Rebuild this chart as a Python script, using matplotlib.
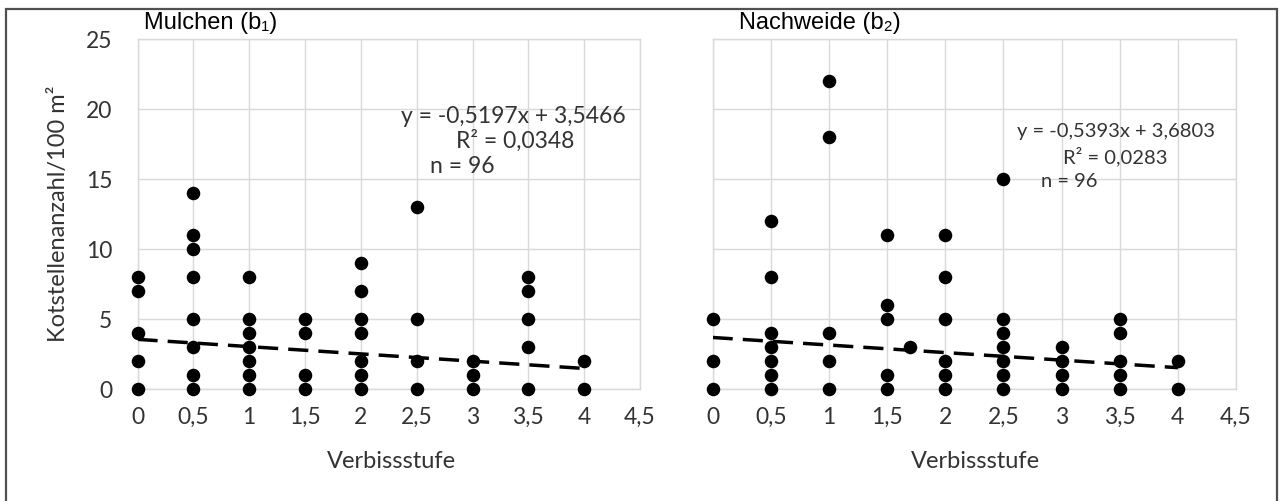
import matplotlib
matplotlib.use("Agg")
import matplotlib.pyplot as plt
from matplotlib.patches import Rectangle

# Browsing level (x) and dung-spot counts per 100 m² (y), one list per treatment
mulchen_x = [0, 0, 0, 0, 0,
             0.5, 0.5, 0.5, 0.5, 0.5, 0.5, 0.5, 0.5,
             1, 1, 1, 1, 1, 1, 1,
             1.5, 1.5, 1.5, 1.5,
             2, 2, 2, 2, 2, 2, 2,
             2.5, 2.5, 2.5, 2.5,
             3, 3, 3,
             3.5, 3.5, 3.5, 3.5, 3.5,
             4, 4]
mulchen_y = [8, 7, 4, 2, 0,
             14, 11, 10, 8, 5, 3, 1, 0,
             8, 5, 4, 3, 2, 1, 0,
             5, 4, 1, 0,
             9, 7, 5, 4, 2, 1, 0,
             13, 5, 2, 0,
             2, 1, 0,
             8, 7, 5, 3, 0,
             2, 0]

nachweide_x = [0, 0, 0,
               0.5, 0.5, 0.5, 0.5, 0.5, 0.5, 0.5,
               1, 1, 1, 1, 1,
               1.5, 1.5, 1.5, 1.5, 1.5,
               1.7,
               2, 2, 2, 2, 2, 2,
               2.5, 2.5, 2.5, 2.5, 2.5, 2.5, 2.5,
               3, 3, 3, 3,
               3.5, 3.5, 3.5, 3.5, 3.5,
               4, 4]
nachweide_y = [5, 2, 0,
               12, 8, 4, 3, 2, 1, 0,
               22, 18, 4, 2, 0,
               11, 6, 5, 1, 0,
               3,
               11, 8, 5, 2, 1, 0,
               15, 5, 4, 3, 2, 1, 0,
               3, 2, 1, 0,
               5, 4, 2, 1, 0,
               2, 0]

# Linear trend lines: slope, intercept, R², n
mulchen_fit = (-0.5197, 3.5466, 0.0348, 96)
nachweide_fit = (-0.5393, 3.6803, 0.0283, 96)

x_ticks = [0, 0.5, 1, 1.5, 2, 2.5, 3, 3.5, 4, 4.5]
x_ticklabels = ["0", "0,5", "1", "1,5", "2", "2,5", "3", "3,5", "4", "4,5"]
y_ticks = [0, 5, 10, 15, 20, 25]

W, H = 1282, 501
fig = plt.figure(figsize=(W / 100, H / 100), dpi=100)

FONT = ["Lato", "DejaVu Sans"]
TITLE_FONT = ["Liberation Sans", "DejaVu Sans"]
TEXT_COLOR = "#333333"
GRID_COLOR = "#d9d9d9"
TICK_SIZE = 16.5


def px_axes(x0, x1, y0, y1):
    return fig.add_axes([x0 / W, 1 - y1 / H, (x1 - x0) / W, (y1 - y0) / H])


def fmt(v, nd):
    return f"{v:.{nd}f}".replace(".", ",")


def panel(ax, xs, ys, fit, show_yticks):
    ax.set_xlim(0, 4.5)
    ax.set_ylim(0, 25)
    ax.set_xticks(x_ticks)
    ax.set_yticks(y_ticks)
    ax.grid(True, color=GRID_COLOR, linewidth=1.0)
    ax.set_axisbelow(True)
    for side in ["top", "right", "left", "bottom"]:
        ax.spines[side].set_color(GRID_COLOR)
        ax.spines[side].set_linewidth(1.0)
    ax.tick_params(length=0, colors=TEXT_COLOR, labelsize=TICK_SIZE)
    ax.tick_params(axis="x", pad=13)
    ax.set_xticklabels(x_ticklabels, family=FONT)
    if show_yticks:
        ax.set_yticklabels([str(v) for v in y_ticks], family=FONT)
        ax.tick_params(axis="y", pad=18)
    else:
        ax.set_yticklabels([])

    ax.scatter(xs, ys, s=95, color="black", zorder=3, clip_on=False,
               linewidths=0)

    slope, intercept, r2, n = fit
    tx = [0, 4]
    ax.plot(tx, [slope * t + intercept for t in tx], color="black",
            linewidth=2.5, dashes=(5.8, 2.9), zorder=4)


def fit_labels(ax, fit, pos, size):
    slope, intercept, r2, n = fit
    texts = [f"y = {fmt(slope, 4)}x + {fmt(intercept, 4)}",
             f"R² = {fmt(r2, 4)}",
             f"n = {n}"]
    for txt, (x, y) in zip(texts, pos):
        ax.text(x, y, txt, family=FONT, fontsize=size, color=TEXT_COLOR,
                ha="center", va="baseline", zorder=5)


ax1 = px_axes(137.5, 640, 39, 389)
ax2 = px_axes(712.6, 1236, 39, 389)

panel(ax1, mulchen_x, mulchen_y, mulchen_fit, True)
fit_labels(ax1, mulchen_fit, [(3.37, 18.98), (3.38, 17.21), (2.91, 15.43)], 16.5)

panel(ax2, nachweide_x, nachweide_y, nachweide_fit, False)
fit_labels(ax2, nachweide_fit, [(3.47, 18.0), (3.46, 16.14), (3.07, 14.43)], 14.5)

# Panel titles
fig.text(144.5 / W, 1 - 23 / H, "Mulchen (b\u2081)", family=TITLE_FONT,
         fontsize=17, color="black", ha="left", va="center")
fig.text(739 / W, 1 - 23 / H, "Nachweide (b\u2082)", family=TITLE_FONT,
         fontsize=17, color="black", ha="left", va="center")

# Axis titles
fig.text(59 / W, 1 - 213.5 / H, "Kotstellenanzahl/100 m²", family=FONT,
         fontsize=17, color=TEXT_COLOR, rotation=90, ha="center", va="center")
fig.text(391 / W, 1 - 468 / H, "Verbissstufe", family=FONT,
         fontsize=17, color=TEXT_COLOR, ha="center", va="baseline")
fig.text(975 / W, 1 - 468 / H, "Verbissstufe", family=FONT,
         fontsize=17, color=TEXT_COLOR, ha="center", va="baseline")

# Outer frame (bottom edge runs past the lower image border)
fig.patches.append(Rectangle((5.5 / W, 1 - 505 / H), (1277 - 5.5) / W, (505 - 9) / H,
                             transform=fig.transFigure, fill=False,
                             edgecolor="#505050", linewidth=1.6))

fig.savefig("out.png", dpi=100, facecolor="white")
